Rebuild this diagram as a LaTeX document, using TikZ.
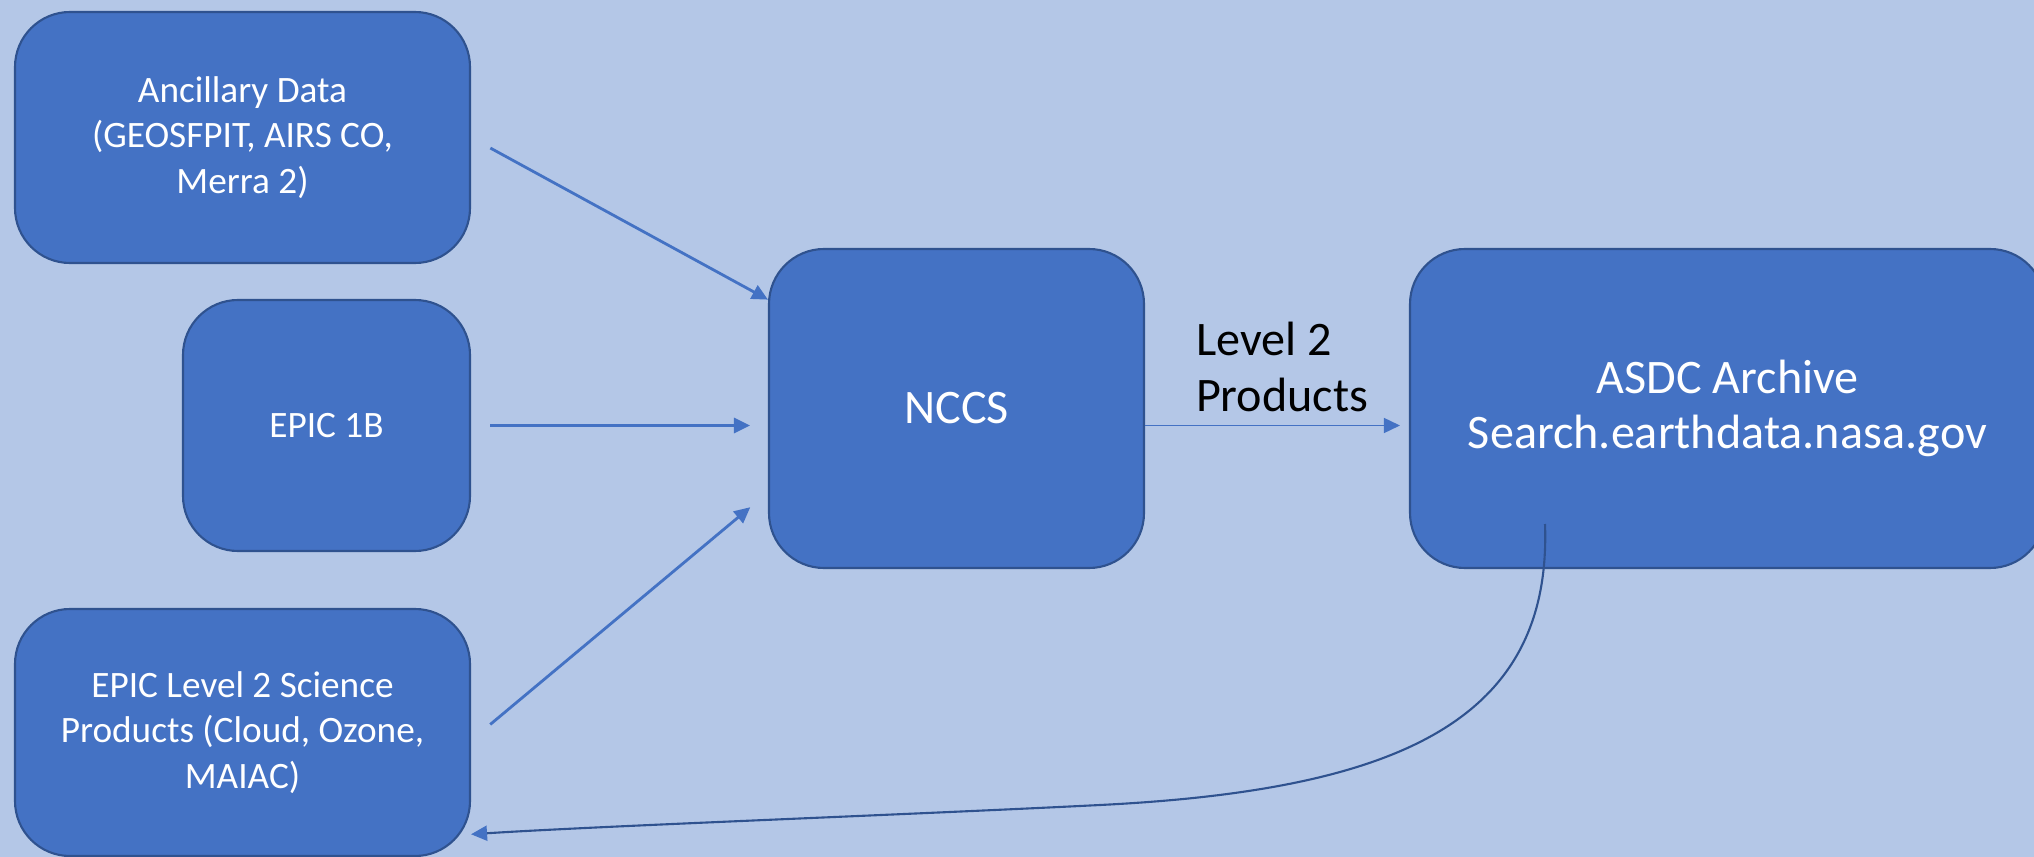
\documentclass[tikz,border=0pt]{standalone}
\usepackage{fontspec}
\setmainfont{Carlito}
\usetikzlibrary{arrows.meta}

\definecolor{bgblue}{HTML}{B4C7E7}
\definecolor{boxblue}{HTML}{4472C4}
\definecolor{edgeblue}{HTML}{2F528F}

\tikzset{
  stage/.style={draw=edgeblue, fill=boxblue, line width=0.6pt, rounded corners=5.5mm,
    text=white, align=center, inner sep=0pt, font=\fontsize{10.6}{13}\selectfont},
  bigstage/.style={stage, font=\fontsize{13.7}{15.7}\selectfont},
  multi/.style={execute at begin node={\rule{0pt}{0.92em}}},
  feed/.style={draw=boxblue, line width=0.8pt, -{Triangle[length=1.6mm,width=1.5mm]}},
}

\begin{document}
\begin{tikzpicture}[x=0.1mm,y=-0.1mm]
	 \useasboundingbox (0,0) rectangle (2034,857);
	 \fill[bgblue] (0,0) rectangle (2034,857);

	 \node (anc)  [stage, multi, minimum width=45.5mm, minimum height=25.1mm] at (242.5,137.5) {Ancillary Data\\(GEOSFPIT, AIRS CO,\\Merra 2)};
	 \node (epic) [stage, minimum width=28.7mm, minimum height=25.1mm] at (326.5,425.5) {EPIC 1B};
	 \node (sci)  [stage, multi, minimum width=45.5mm, minimum height=24.7mm] at (242.5,732.5) {EPIC Level 2 Science\\Products (Cloud, Ozone,\\MAIAC)};
	 \node (nccs) [bigstage, minimum width=37.5mm, minimum height=31.9mm] at (956.5,408.5) {NCCS};
	 \node (asdc) [bigstage, multi, minimum width=63.5mm, minimum height=31.9mm] at (1727.5,408.5) {ASDC Archive\\Search.earthdata.nasa.gov};
	 \coordinate (back) at (1545,524);

	 \draw[feed, shorten <=2.2mm] (anc.east) to (nccs.150);
	 \draw[feed, shorten <=1.9mm, shorten >=1.8mm] (epic.east) to (epic.east -| nccs.west);
	 \draw[feed, shorten <=2.5mm, shorten >=2.3mm] (sci.-2) to (nccs.204);
	 \draw[feed, line width=0.45pt, shorten >=0.9mm] (epic.east -| nccs.east) to
	   node [pos=0.19, anchor=south west, align=left, inner sep=0pt, yshift=1.3mm,
	     font=\fontsize{13.7}{15.8}\selectfont] {Level 2\\Products} (epic.east -| asdc.west);
	 \draw[draw=edgeblue, line width=0.6pt, -{Triangle[length=1.6mm,width=1.5mm,color=boxblue]}]
	   (back) .. controls (1552,720) and (1400,790) .. (1100,805)
	   .. controls (900,815) and (600,826) .. (sci.-24);
	\end{tikzpicture}
\end{document}
